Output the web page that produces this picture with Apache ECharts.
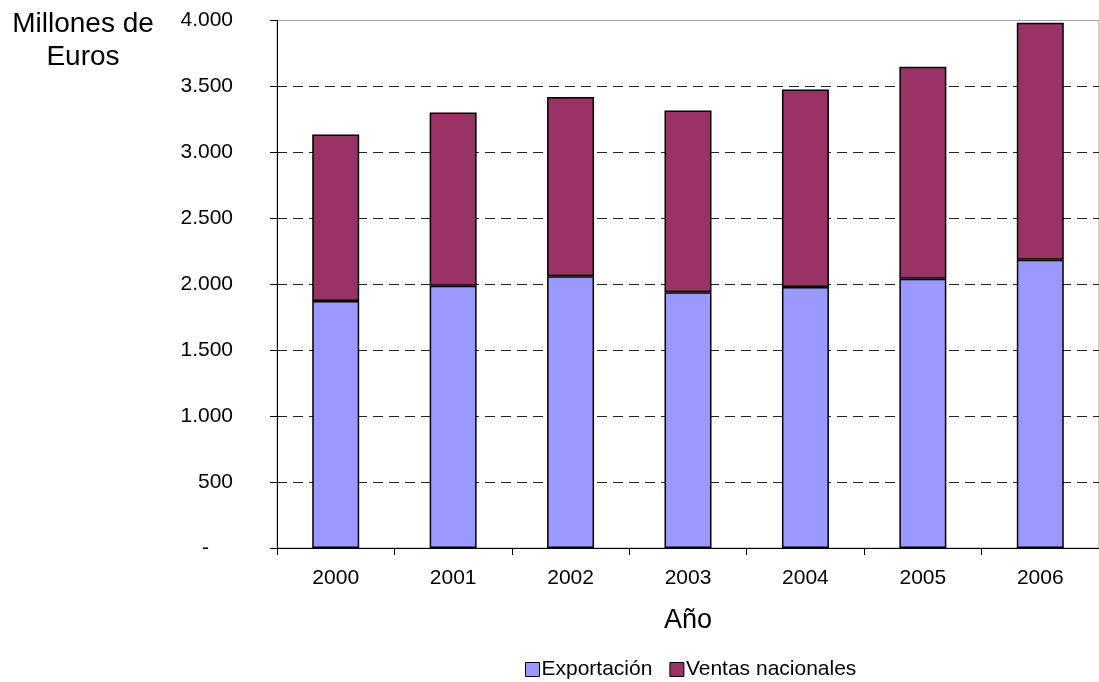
<!DOCTYPE html>
<html>
<head>
<meta charset="utf-8">
<title>Ventas en millones de euros</title>
<script src="https://cdn.jsdelivr.net/npm/echarts@6/dist/echarts.min.js"></script>
<style>
  html, body { margin: 0; padding: 0; background: #fff; }
  #chart { width: 1099px; height: 682px; }
</style>
</head>
<body>
<div id="chart"></div>
<script>
// Años del eje horizontal
const years = ['2000', '2001', '2002', '2003', '2004', '2005', '2006'];
// Millones de euros por año
const exportacion = [1873, 1989, 2061, 1939, 1980, 2042, 2186];
const ventasNacionales = [1263, 1314, 1358, 1379, 1497, 1607, 1796];
// Escala del eje vertical
const yMin = 0;
const yMax = 4000;
const yStep = 500;

const FONT = '"Liberation Sans", Arial, sans-serif';

// Formato español con punto de miles; el cero se muestra como guion
function fmt(v) {
  if (v === 0) return '{z|-}';
  return String(v).replace(/\B(?=(\d{3})+(?!\d))/g, '.');
}

const chart = echarts.init(document.getElementById('chart'), null, { renderer: 'canvas' });

chart.setOption({
  animation: false,
  backgroundColor: '#ffffff',
  textStyle: { fontFamily: FONT },
  grid: {
    left: 277,
    top: 20.5,
    width: 830.6,
    height: 527.5,
    show: true,
    borderColor: '#a0a0a0',
    borderWidth: 1,
    backgroundColor: 'transparent'
  },
  legend: {
    left: 520,
    top: 654,
    itemWidth: 14,
    itemHeight: 14,
    itemGap: 17,
    icon: 'rect',
    textStyle: { fontFamily: FONT, fontSize: 21, color: '#000', padding: [0, 0, 0, -3] },
    data: [
      { name: 'Exportación', itemStyle: { borderColor: '#000', borderWidth: 1 } },
      { name: 'Ventas nacionales', itemStyle: { borderColor: '#000', borderWidth: 1 } }
    ]
  },
  graphic: [
    {
      type: 'text',
      x: 83,
      y: 8,
      style: {
        text: 'Millones de\nEuros',
        font: '28px ' + FONT,
        fill: '#000',
        textAlign: 'center',
        lineHeight: 33
      }
    }
  ],
  xAxis: {
    type: 'category',
    data: years,
    boundaryGap: true,
    name: 'Año',
    nameLocation: 'middle',
    nameGap: 59,
    nameTextStyle: { fontFamily: FONT, fontSize: 27, color: '#000' },
    axisLine: { show: true, lineStyle: { color: '#000', width: 1 } },
    axisTick: { show: true, length: 7, alignWithLabel: false, lineStyle: { color: '#000' } },
    axisLabel: { fontFamily: FONT, fontSize: 21, color: '#000', margin: 20 },
    splitLine: { show: false }
  },
  yAxis: {
    type: 'value',
    min: yMin,
    max: yMax,
    interval: yStep,
    axisLine: { show: true, lineStyle: { color: '#000', width: 1 } },
    axisTick: { show: true, length: 7, lineStyle: { color: '#000' } },
    axisLabel: {
      fontFamily: FONT,
      fontSize: 21,
      color: '#000',
      margin: 44,
      formatter: fmt,
      rich: { z: { fontFamily: FONT, fontSize: 21, color: '#000', padding: [0, 24, 0, 0] } }
    },
    splitLine: {
      show: true,
      showMinLine: false,
      showMaxLine: false,
      lineStyle: { color: '#222', width: 1, type: [10, 6] }
    }
  },
  series: [
    {
      name: 'Exportación',
      type: 'bar',
      stack: 'total',
      barWidth: '40%',
      data: exportacion,
      itemStyle: { color: '#9999ff', borderColor: '#000', borderWidth: 1.5 }
    },
    {
      name: 'Ventas nacionales',
      type: 'bar',
      stack: 'total',
      barWidth: '40%',
      data: ventasNacionales,
      itemStyle: { color: '#993366', borderColor: '#000', borderWidth: 1.5 }
    }
  ]
});
</script>
</body>
</html>
